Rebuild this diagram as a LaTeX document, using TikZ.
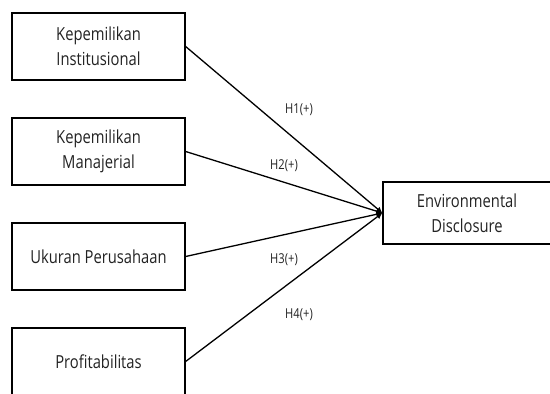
\documentclass[tikz,border=0pt]{standalone}
\usepackage{fontspec}
\setmainfont{Open Sans}[FakeStretch=0.82]
\usepackage{xcolor}
\usetikzlibrary{arrows.meta}
\definecolor{labelgray}{HTML}{222222}

\begin{document}
\begin{tikzpicture}[x=0.5pt, y=-0.5pt,
    varbox/.style={draw, line width=0.65pt, minimum width=86.5pt, minimum height=33.5pt,
        align=center, inner sep=0pt, text=labelgray, font=\fontsize{9}{12.5}\selectfont},
    hyp/.style={text=labelgray, inner sep=0pt, font=\fontsize{6.8}{8}\selectfont},
    path/.style={line width=0.65pt, -{Latex[length=3pt, width=3pt]}}]
                \useasboundingbox (0,0) rectangle (550,394);

                % Variabel independen
                \node[varbox] (inst) at (98.5,46.5) {Kepemilikan\\Institusional};
                \node[varbox] (man) at (98.5,151.5) {Kepemilikan\\Manajerial};
                \node[varbox] (size) at (98.5,256.5) {Ukuran Perusahaan};
                \node[varbox] (prof) at (98.5,361.5) {Profitabilitas};

                % Variabel dependen
                \node[varbox, minimum width=84pt, minimum height=31pt] (env) at (467,213) {Environmental\\Disclosure};

                % Hipotesis
                \draw[path] (inst.east) -- (env.west);
                \draw[path] (man.east) -- (env.west);
                \draw[path] (size.east) -- (env.west);
                \draw[path] (prof.east) -- (env.west);

                \node[hyp] (h1) at (299,110) {H1(+)};
                \node[hyp] (h2) at (284,166) {H2(+)};
                \node[hyp] (h3) at (284,260) {H3(+)};
                \node[hyp] (h4) at (299,315) {H4(+)};
            \end{tikzpicture}
\end{document}
